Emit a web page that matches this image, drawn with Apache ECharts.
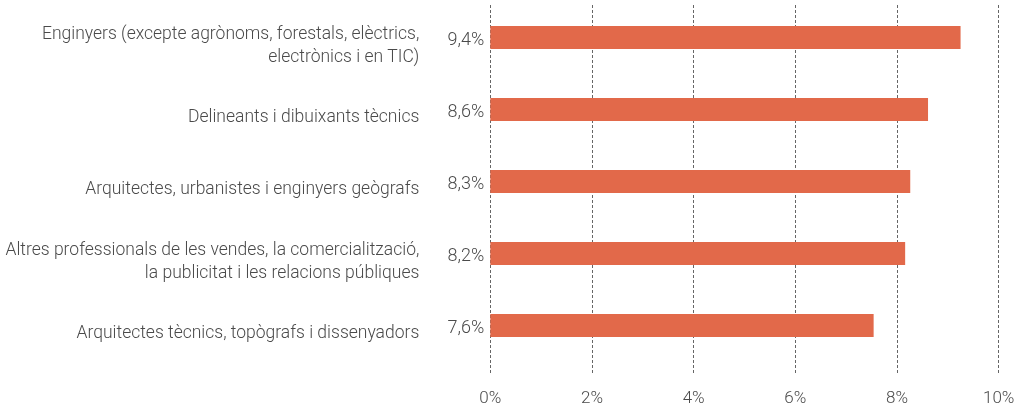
<!DOCTYPE html>
<html>
<head>
<meta charset="utf-8">
<script src="https://cdn.jsdelivr.net/npm/echarts@6/dist/echarts.min.js"></script>
<style>
  html, body { margin: 0; padding: 0; background: #fff; }
  #chart { width: 1021px; height: 414px; }
</style>
</head>
<body>
<div id="chart"></div>
<script>
const categories = [
  'Enginyers (excepte agrònoms, forestals, elèctrics,\nelectrònics i en TIC)',
  'Delineants i dibuixants tècnics',
  'Arquitectes, urbanistes i enginyers geògrafs',
  'Altres professionals de les vendes, la comercialització,\nla publicitat i les relacions públiques',
  'Arquitectes tècnics, topògrafs i dissenyadors'
]
// bar lengths as drawn (percent)
const values = [9.25, 8.61, 8.26, 8.16, 7.54]
// printed labels
const valueLabels = ['9,4%', '8,6%', '8,3%', '8,2%', '7,6%']
const xTicks = [0, 2, 4, 6, 8, 10]

const FONT = 'Roboto'
const TEXT = '#4a4a4a'

const myChart = echarts.init(document.getElementById('chart'))

const option = {
  animation: false,
  textStyle: { fontFamily: FONT },
  grid: [
    // bars
    { left: 490.3, right: 22.3, top: 1.5, height: 360 },
    // dashed grid lines + bottom labels
    { left: 490.3, right: 22.3, top: 5, bottom: 41 }
  ],
  xAxis: [
    {
      gridIndex: 0,
      type: 'value',
      min: xTicks[0],
      max: xTicks[xTicks.length - 1],
      interval: 2,
      show: false
    },
    {
      gridIndex: 1,
      type: 'value',
      min: xTicks[0],
      max: xTicks[xTicks.length - 1],
      interval: 2,
      axisLine: { show: false },
      axisTick: { show: false },
      axisLabel: {
        margin: 17,
        fontFamily: FONT,
        fontWeight: 300,
        fontSize: 17,
        color: TEXT,
        formatter: '{value}%'
      },
      splitLine: {
        show: true,
        lineStyle: { color: '#666', width: 1, type: [3, 2] }
      }
    }
  ],
  yAxis: [
    {
      gridIndex: 0,
      type: 'category',
      inverse: true,
      data: categories,
      axisLine: { show: false },
      axisTick: { show: false },
      axisLabel: {
        margin: 71,
        align: 'right',
        verticalAlign: 'middle',
        // a small empty first line pushes the text a bit below the bar centre
        formatter: function (value) {
          return '{s| }\n' + value.split('\n').map(function (l) {
            return '{a|' + l + '}'
          }).join('\n')
        },
        rich: {
          s: { fontSize: 1, lineHeight: 17 },
          a: {
            fontFamily: FONT,
            fontWeight: 300,
            fontSize: 17.5,
            lineHeight: 23,
            color: TEXT,
            align: 'right'
          }
        }
      },
      splitLine: { show: false }
    },
    {
      gridIndex: 1,
      type: 'category',
      data: categories,
      show: false
    }
  ],
  series: [
    {
      type: 'bar',
      xAxisIndex: 0,
      yAxisIndex: 0,
      data: values,
      barWidth: 23,
      itemStyle: { color: '#e2694a' },
      label: {
        show: true,
        position: 'left',
        distance: 6,
        offset: [0, 3],
        fontFamily: FONT,
        fontWeight: 300,
        fontSize: 18,
        color: TEXT,
        formatter: function (p) {
          return valueLabels[p.dataIndex]
        }
      }
    }
  ]
}
myChart.setOption(option)
</script>
</body>
</html>
